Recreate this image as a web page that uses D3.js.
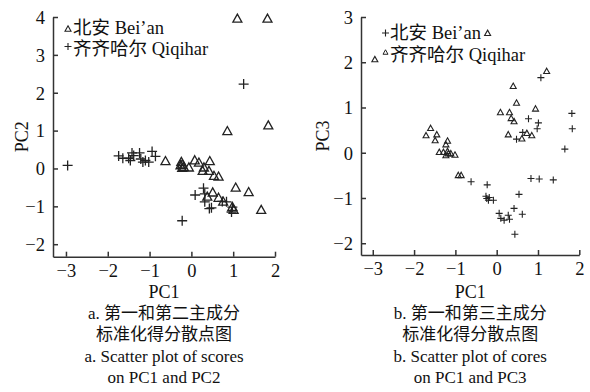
<!DOCTYPE html>
<html><head><meta charset="utf-8">
<script src="https://cdn.jsdelivr.net/npm/d3@7"></script>
<style>
body{margin:0;background:#fff;}
text{font-family:"Liberation Serif","Times New Roman","Noto Sans CJK SC",serif;fill:#111;}
</style></head>
<body><svg id="c" width="590" height="392"></svg>
<script>
// ---- Data ----
const xTicks = [-3, -2, -1, 0, 1, 2];
const yTicksA = [-2, -1, 0, 1, 2, 3, 4];
const yTicksB = [-2, -1, 0, 1, 2, 3];

// Panel a: PC1 vs PC2
const aBeian = [[1.10,3.97],[1.82,3.97],[0.86,1.0],[1.84,1.15],[-0.62,0.21],[-0.24,0.19],[-0.22,0.12],[-0.18,0.05],[-0.26,0.10],[-0.06,0.04],[0.08,0.23],[0.18,0.17],[0.30,0.04],[0.27,-0.05],[0.44,0.21],[0.42,-0.05],[0.54,-0.18],[0.65,-0.20],[1.06,-0.49],[1.37,-0.61],[1.67,-1.08],[0.51,-0.62],[0.38,-0.73],[0.65,-0.76],[0.76,-0.86],[0.98,-1.0],[1.01,-1.08],[-0.22,0.03]];
const aQiqihar = [[-2.96,0.08],[-1.74,0.33],[-1.64,0.27],[-1.50,0.27],[-1.42,0.41],[-1.38,0.34],[-1.46,0.21],[-1.24,0.41],[-1.21,0.25],[-1.16,0.17],[-1.10,0.21],[-1.02,0.17],[-0.94,0.45],[-0.86,0.32],[1.25,2.23],[0.09,-0.70],[0.29,-0.52],[0.32,-0.67],[0.32,-0.88],[0.43,-1.06],[0.48,-1.04],[0.74,-0.87],[0.84,-0.88],[0.96,-1.15],[0.98,-1.02],[-0.22,-1.38]];

// Panel b: PC1 vs PC3 (legend: + = 北安, triangle = 齐齐哈尔)
const bBeian = [[1.07,1.66],[0.77,0.75],[1.01,0.66],[0.98,0.53],[1.82,0.87],[1.83,0.53],[0.63,0.45],[0.48,0.30],[1.65,0.08],[-0.62,-0.64],[-0.23,-0.71],[-0.26,-0.96],[-0.24,-1.01],[-0.20,-1.05],[-0.18,-0.99],[-0.08,-1.05],[0.06,-1.34],[0.10,-1.45],[0.18,-1.49],[0.28,-1.38],[0.31,-1.47],[0.42,-1.23],[0.54,-0.92],[0.62,-1.36],[0.44,-1.80],[0.83,-0.57],[1.03,-0.58],[1.37,-0.60]];
const bQiqihar = [[-2.95,2.07],[-0.22,2.65],[1.21,1.81],[0.40,1.48],[0.48,1.11],[0.94,0.98],[0.09,0.90],[0.31,0.90],[0.35,0.77],[0.42,0.70],[0.28,0.41],[0.61,0.32],[0.73,0.44],[0.85,0.39],[-1.60,0.55],[-1.71,0.39],[-1.45,0.41],[-1.49,0.28],[-1.19,0.27],[-1.23,0.19],[-1.39,0.02],[-1.29,0.02],[-1.19,0.04],[-1.17,-0.01],[-1.23,-0.05],[-1.11,-0.01],[-1.01,-0.04],[-0.93,-0.49],[-0.86,-0.49]];

const legendA = ["北安 Bei\u2019an", "齐齐哈尔 Qiqihar"];
const legendB = ["北安 Bei\u2019an", "齐齐哈尔 Qiqihar"];
const captionA = ["a. 第一和第二主成分", "标准化得分散点图", "a. Scatter plot of scores", "on PC1 and PC2"];
const captionB = ["b. 第一和第三主成分", "标准化得分散点图", "b. Scatter plot of cores", "on PC1 and PC3"];

const svg = d3.select("#c");
const INK = "#222";

function tri(g, x, y, s, sw) {
  const h = s * 0.9;
  g.append("path").attr("d", `M${x},${y - h/2}L${x + s/2},${y + h/2}L${x - s/2},${y + h/2}Z`)
    .attr("fill", "none").attr("stroke", INK).attr("stroke-width", sw);
}
function plus(g, x, y, s, sw) {
  g.append("path").attr("d", `M${x - s/2},${y}H${x + s/2}M${x},${y - s/2}V${y + s/2}`)
    .attr("stroke", INK).attr("stroke-width", sw).attr("fill", "none");
}

function panel(opt) {
  const g = svg.append("g");
  const x = d3.scaleLinear().domain(opt.xDom).range([opt.x0, opt.x1]);
  const y = d3.scaleLinear().domain(opt.yDom).range([opt.y1, opt.y0]);
  const fmt = d => d < 0 ? "\u2212" + Math.abs(d) : String(d);

  const ax = g.append("g").attr("transform", `translate(0,${opt.y1})`)
    .call(d3.axisBottom(x).tickValues(xTicks).tickFormat(fmt).tickSizeInner(-5).tickSizeOuter(0).tickPadding(7));
  const ay = g.append("g").attr("transform", `translate(${opt.x0},0)`)
    .call(d3.axisLeft(y).tickValues(opt.yTicks).tickFormat(fmt).tickSizeInner(-5).tickSizeOuter(0).tickPadding(8));
  [ax, ay].forEach(a => {
    a.selectAll("path,line").attr("stroke", "#333").attr("stroke-width", 1.5);
    a.selectAll("text").attr("font-size", 18.5).attr("fill", "#111")
      .style("font-family", '"Liberation Serif","Times New Roman",serif');
  });
  ay.selectAll("text").attr("dy", "0.34em");

  // points
  opt.triData.forEach(d => tri(g, x(d[0]), y(d[1]), opt.triSize, opt.sw));
  opt.plusData.forEach(d => plus(g, x(d[0]), y(d[1]), opt.plusSize, opt.sw));

  // axis titles
  const cx = (opt.x0 + opt.x1) / 2;
  g.append("text").attr("x", cx).attr("y", 298).attr("text-anchor", "middle").attr("font-size", 18).text("PC1");
  g.append("text").attr("transform", `translate(${opt.yTitleX},${(opt.y0 + opt.y1) / 2}) rotate(-90)`)
    .attr("text-anchor", "middle").attr("font-size", 18).text(opt.yTitle);

  // legend
  opt.legend(g);

  // caption
  opt.caption.forEach((t, i) => {
    g.append("text").attr("x", cx).attr("y", 319 + i * 21.3).attr("text-anchor", "middle")
      .attr("font-size", 17).text(t);
  });
}

panel({
  x0: 53, x1: 275, y0: 17, y1: 256.7,
  xDom: [-3.31, 2], yDom: [-2.33, 4], yTicks: yTicksA,
  triData: aBeian, plusData: aQiqihar, triSize: 9, plusSize: 10, sw: 1.3,
  yTitle: "PC2", yTitleX: 28, caption: captionA,
  legend: g => {
    tri(g, 68, 28.5, 6, 1.1);
    g.append("text").attr("x", 73).attr("y", 34).attr("font-size", 18.5).text(legendA[0]);
    plus(g, 68, 46.5, 7, 1.1);
    g.append("text").attr("x", 73).attr("y", 54.5).attr("font-size", 18.5).text(legendA[1]);
  }
});

panel({
  x0: 361, x1: 579.3, y0: 17, y1: 255,
  xDom: [-3.285, 2], yDom: [-2.26, 3], yTicks: yTicksB,
  triData: bQiqihar, plusData: bBeian, triSize: 6, plusSize: 7, sw: 1.1,
  yTitle: "PC3", yTitleX: 329, caption: captionB,
  legend: g => {
    plus(g, 385.5, 33, 7, 1.1);
    g.append("text").attr("x", 390).attr("y", 39).attr("font-size", 18.5).text(legendB[0]);
    tri(g, 385.5, 52, 5, 1);
    g.append("text").attr("x", 390).attr("y", 61).attr("font-size", 18.5).text(legendB[1]);
  }
});
</script></body></html>
